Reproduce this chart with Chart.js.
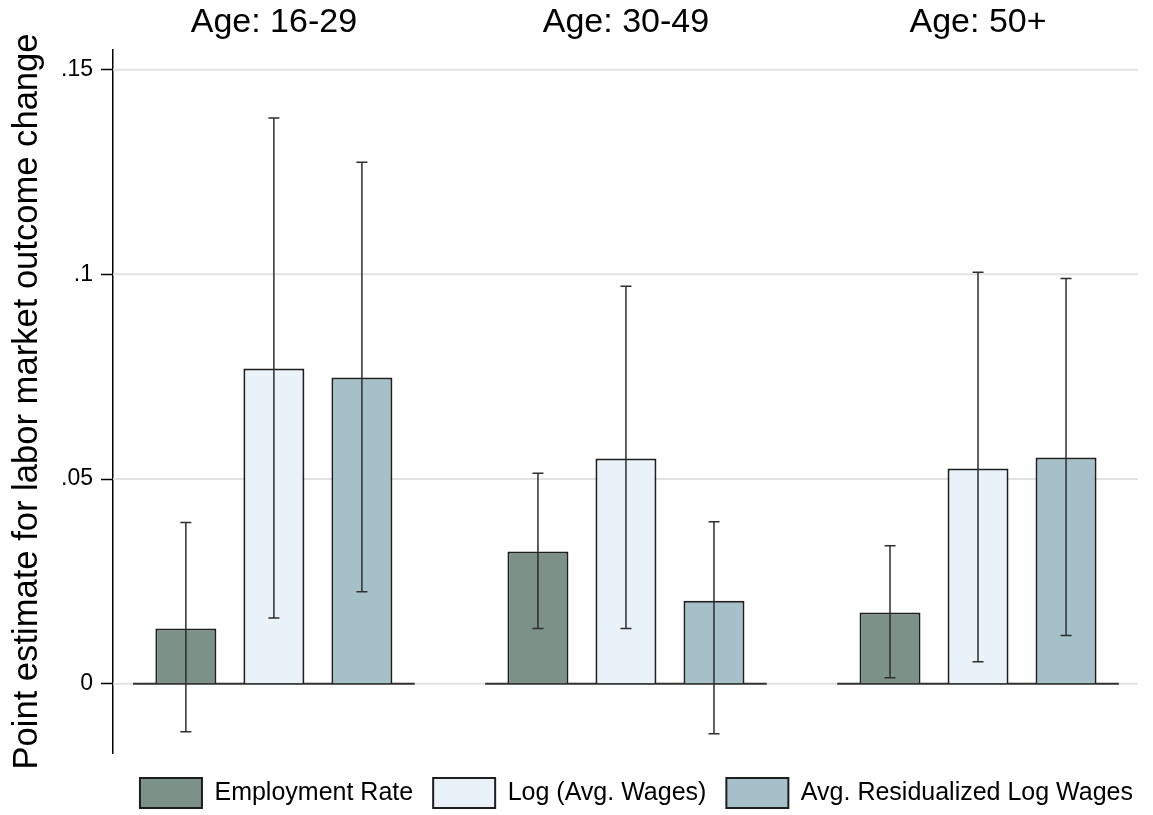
<!DOCTYPE html>
<html>
<head>
<meta charset="utf-8">
<script src="https://cdn.jsdelivr.net/npm/chart.js@4.4.1/dist/chart.umd.min.js"></script>
<style>
  html, body { margin: 0; padding: 0; background: #fff; }
  #wrap { width: 1153px; height: 815px; position: relative; }
</style>
</head>
<body>
<div id="wrap"><canvas id="chart_ageGroupEstimates"></canvas></div>
<script>
// panels and series
var ageGroups = ['Age: 16-29', 'Age: 30-49', 'Age: 50+'];
var seriesNames = ['Employment Rate', 'Log (Avg. Wages)', 'Avg. Residualized Log Wages'];

// point estimates per age group
var employmentRate = [0.0135, 0.0323, 0.0174];
var logAvgWages = [0.0770, 0.0550, 0.0526];
var residLogWages = [0.0748, 0.0203, 0.0553];

// confidence interval ends
var employmentLow = [-0.0117, 0.0135, 0.0015];
var employmentHigh = [0.0394, 0.0514, 0.0337];
var logWagesLow = [0.0161, 0.0135, 0.0054];
var logWagesHigh = [0.1382, 0.0971, 0.1005];
var residLow = [0.0225, -0.0122, 0.0118];
var residHigh = [0.1274, 0.0396, 0.0990];

// y axis ticks
var yTickValues = [0, 0.05, 0.1, 0.15];
var yTickLabels = ['0', '.05', '.1', '.15'];

var fontFamily = "'Liberation Sans', Arial, Helvetica, sans-serif";

function toPoints(values) {
    return values.map(function (v, i) { return { x: i, y: v }; });
}

var errorBarsPlugin = {
    id: 'errorBars',
    afterDatasetsDraw: function (chart) {
        var ctx = chart.ctx;
        var yScale = chart.scales.y;
        ctx.save();
        ctx.strokeStyle = '#2e2e2e';
        ctx.lineWidth = 1.5;
        chart.data.datasets.forEach(function (ds, di) {
            var meta = chart.getDatasetMeta(di);
            meta.data.forEach(function (bar, i) {
                var x = bar.x;
                var lo = yScale.getPixelForValue(ds.errLow[i]);
                var hi = yScale.getPixelForValue(ds.errHigh[i]);
                ctx.beginPath();
                ctx.moveTo(x, lo);
                ctx.lineTo(x, hi);
                ctx.moveTo(x - 5.5, lo);
                ctx.lineTo(x + 5.5, lo);
                ctx.moveTo(x - 5.5, hi);
                ctx.lineTo(x + 5.5, hi);
                ctx.stroke();
            });
        });
        ctx.restore();
    }
};

var panelPlugin = {
    id: 'panels',
    beforeDatasetsDraw: function (chart) {
        var ctx = chart.ctx;
        var xScale = chart.scales.x, yScale = chart.scales.y;
        var area = chart.chartArea;
        ctx.save();
        // light horizontal grid, stopping short of the right edge
        ctx.strokeStyle = '#e2e2e2';
        ctx.lineWidth = 2;
        yScale.ticks.forEach(function (t) {
            var py = yScale.getPixelForValue(t.value);
            ctx.beginPath();
            ctx.moveTo(area.left, py);
            ctx.lineTo(area.right - 15, py);
            ctx.stroke();
        });
        // zero line within each panel
        var y0 = yScale.getPixelForValue(0);
        ctx.strokeStyle = '#333333';
        ctx.lineWidth = 2;
        ageGroups.forEach(function (g, i) {
            ctx.beginPath();
            ctx.moveTo(xScale.getPixelForValue(i - 0.4), y0);
            ctx.lineTo(xScale.getPixelForValue(i + 0.4), y0);
            ctx.stroke();
        });
        ctx.restore();
    },
    afterDraw: function (chart) {
        // panel titles
        var ctx = chart.ctx;
        var xScale = chart.scales.x;
        ctx.save();
        ctx.fillStyle = '#000';
        ctx.font = '34px ' + fontFamily;
        ctx.textAlign = 'center';
        ctx.textBaseline = 'alphabetic';
        ageGroups.forEach(function (g, i) {
            ctx.fillText(g, xScale.getPixelForValue(i), chart.chartArea.top - 18);
        });
        ctx.restore();
    }
};

var chart_ageGroupEstimates = new Chart(document.getElementById('chart_ageGroupEstimates'), {
    type: 'bar',
    data: {
        datasets: [
            {
                label: seriesNames[0],
                data: toPoints(employmentRate),
                errLow: employmentLow,
                errHigh: employmentHigh,
                backgroundColor: '#7c9188',
                borderColor: '#1e1e1e',
                borderWidth: 2
            },
            {
                label: seriesNames[1],
                data: toPoints(logAvgWages),
                errLow: logWagesLow,
                errHigh: logWagesHigh,
                backgroundColor: '#eaf2f9',
                borderColor: '#1e1e1e',
                borderWidth: 2
            },
            {
                label: seriesNames[2],
                data: toPoints(residLogWages),
                errLow: residLow,
                errHigh: residHigh,
                backgroundColor: '#a6c0ca',
                borderColor: '#1e1e1e',
                borderWidth: 2
            }
        ]
    },
    options: {
        animation: false,
        responsive: true,
        maintainAspectRatio: false,
        categoryPercentage: 0.75,
        barPercentage: 0.693,
        layout: {
            padding: { top: 50, left: 0, right: 0, bottom: -3 }
        },
        plugins: {
            legend: {
                position: 'bottom',
                align: 'end',
                labels: {
                    boxWidth: 62,
                    boxHeight: 30,
                    padding: 20,
                    color: '#000',
                    font: { size: 25, family: fontFamily }
                }
            },
            tooltip: { enabled: false }
        },
        scales: {
            x: {
                type: 'linear',
                offset: false,
                min: -0.457,
                max: 2.497,
                afterBuildTicks: function (scale) {
                    scale.ticks = ageGroups.map(function (g, i) { return { value: i }; });
                },
                afterFit: function (scale) {
                    scale.height = 5;
                },
                ticks: { display: false },
                grid: { display: false },
                border: { display: false }
            },
            y: {
                type: 'linear',
                min: -0.0169,
                max: 0.1548,
                afterBuildTicks: function (scale) {
                    scale.ticks = yTickValues.map(function (v) { return { value: v }; });
                },
                afterFit: function (scale) {
                    scale.width = 113;
                },
                ticks: {
                    padding: 8,
                    color: '#000',
                    font: { size: 23, family: fontFamily },
                    callback: function (value, index) { return yTickLabels[index]; }
                },
                grid: {
                    drawOnChartArea: false,
                    tickLength: 12,
                    tickColor: '#000',
                    tickWidth: 1.5
                },
                border: { display: true, color: '#000', width: 1.5 },
                title: {
                    display: true,
                    text: 'Point estimate for labor market outcome change',
                    color: '#000',
                    font: { size: 34.6, family: fontFamily },
                    padding: { top: 7, bottom: 0 }
                }
            }
        }
    },
    plugins: [panelPlugin, errorBarsPlugin, {
        id: 'whiteBackground',
        beforeDraw: function (chart) {
            var ctx = chart.canvas.getContext('2d');
            ctx.save();
            ctx.globalCompositeOperation = 'destination-over';
            ctx.fillStyle = 'white';
            ctx.fillRect(0, 0, chart.canvas.width, chart.canvas.height);
            ctx.restore();
        }
    }]
});
</script>
</body>
</html>
